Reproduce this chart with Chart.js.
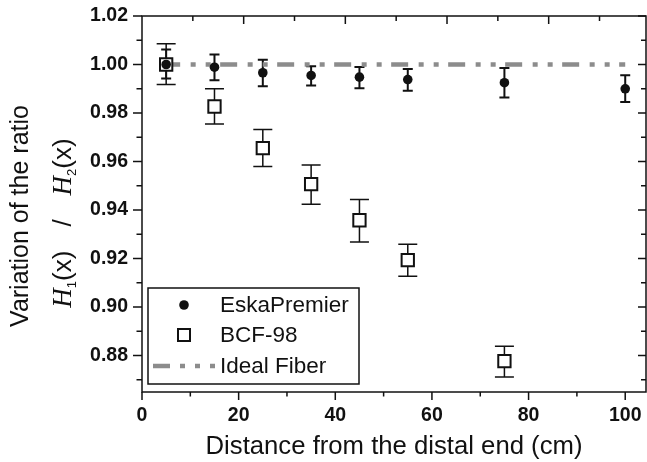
<!DOCTYPE html>
<html>
<head>
<meta charset="utf-8">
<script src="https://cdn.jsdelivr.net/npm/chart.js@4.4.1/dist/chart.umd.min.js"></script>
<style>
  html, body { margin: 0; padding: 0; background: #fff; }
</style>
</head>
<body>
<canvas id="chart" width="647" height="462"></canvas>
<script>
// values
const eskaDistances = [5, 15, 25, 35, 45, 55, 75, 100];
const eskaValues = [1.0000, 0.9989, 0.9966, 0.9955, 0.9948, 0.9938, 0.9925, 0.9900];
const eskaErrHigh = [1.0062, 1.0041, 1.0020, 0.9993, 0.9990, 0.9982, 0.9986, 0.9956];
const eskaErrLow = [0.9942, 0.9935, 0.9910, 0.9914, 0.9902, 0.9892, 0.9864, 0.9845];

const bcfDistances = [5, 15, 25, 35, 45, 55, 75];
const bcfValues = [1.0000, 0.9827, 0.9655, 0.9507, 0.9358, 0.9194, 0.8777];
const bcfErrHigh = [1.0086, 0.9900, 0.9732, 0.9586, 0.9444, 0.9259, 0.8839];
const bcfErrLow = [0.9918, 0.9755, 0.9580, 0.9424, 0.9268, 0.9127, 0.8712];

const idealDistances = [5, 100];
const idealValues = [1, 1];

const seriesLabels = ['EskaPremier', 'BCF-98', 'Ideal Fiber'];
const xTicks = [0, 20, 40, 60, 80, 100];
const yTicks = [0.88, 0.90, 0.92, 0.94, 0.96, 0.98, 1.00, 1.02];
const topTickStep = 10.52; // top axis ticks in the figure are not aligned with the bottom ones

const FONT = 'Liberation Sans, Arial, sans-serif';
const INK = '#111';
const IDEAL_DASH = [17, 10.5, 5, 10, 5, 9.5];

const toPoints = (xs, ys) => xs.map((x, i) => ({ x, y: ys[i] }));

// error bars, drawn under the markers
const errorBars = {
  id: 'errorBars',
  beforeDatasetsDraw(chart) {
    const { ctx, scales: { x, y } } = chart;
    chart.data.datasets.forEach(ds => {
      if (!ds.errLow) return;
      ctx.save();
      ctx.strokeStyle = INK;
      ctx.lineWidth = ds.errWidth;
      ds.data.forEach((p, i) => {
        const px = x.getPixelForValue(p.x);
        const top = y.getPixelForValue(ds.errHigh[i]);
        const bot = y.getPixelForValue(ds.errLow[i]);
        ctx.beginPath();
        ctx.moveTo(px, top); ctx.lineTo(px, bot);
        ctx.moveTo(px - ds.capHalf, top); ctx.lineTo(px + ds.capHalf, top);
        ctx.moveTo(px - ds.capHalf, bot); ctx.lineTo(px + ds.capHalf, bot);
        ctx.stroke();
      });
      ctx.restore();
    });
  }
};

// box frame with major/minor ticks (outward left/bottom, inward top/right)
const frame = {
  id: 'frame',
  afterDatasetsDraw(chart) {
    const { ctx, chartArea: a, scales: { x, y } } = chart;
    ctx.save();
    ctx.strokeStyle = INK;
    ctx.lineWidth = 1.5;
    ctx.strokeRect(a.left, a.top, a.right - a.left, a.bottom - a.top);
    ctx.beginPath();
    const xStep = xTicks[1] - xTicks[0];
    for (let v = 0; v <= x.max + 1e-9; v += xStep / 2) {
      const px = x.getPixelForValue(v);
      const major = Math.abs(v / xStep - Math.round(v / xStep)) < 1e-6;
      ctx.moveTo(px, a.bottom); ctx.lineTo(px, a.bottom + (major ? 8 : 4.5));
    }
    for (let k = 1; k * topTickStep < x.max; k++) {
      const px = x.getPixelForValue(k * topTickStep);
      ctx.moveTo(px, a.top); ctx.lineTo(px, a.top + (k % 2 === 0 ? 8 : 5));
    }
    const yStep = yTicks[1] - yTicks[0];
    for (let v = yTicks[0] - yStep / 2; v <= y.max + 1e-9; v += yStep / 2) {
      if (v < y.min) continue;
      const py = y.getPixelForValue(v);
      const major = yTicks.some(t => Math.abs(t - v) < 1e-6);
      ctx.moveTo(a.left, py); ctx.lineTo(a.left - (major ? 9 : 5.5), py);
      ctx.moveTo(a.right, py); ctx.lineTo(a.right - (major ? 8 : 5), py);
    }
    ctx.stroke();
    ctx.restore();
  }
};

// y title, ratio formula and the boxed legend
const annotations = {
  id: 'annotations',
  afterDraw(chart) {
    const { ctx, chartArea: a } = chart;
    const ds = chart.data.datasets;
    ctx.save();
    ctx.fillStyle = INK;

    ctx.save();
    ctx.translate(21, 216);
    ctx.rotate(-Math.PI / 2);
    ctx.font = '25px ' + FONT;
    ctx.textAlign = 'center';
    ctx.textBaseline = 'middle';
    ctx.fillText('Variation of the ratio', 0, 0);
    ctx.restore();

    const italicH = 'italic 27px Liberation Serif, Times New Roman, serif';
    const sans = '26px ' + FONT;
    const sub = '13px ' + FONT;
    const parts = [
      { t: 'H', f: italicH }, { t: '1', f: sub, dy: 5 }, { t: '(x)', f: sans },
      { t: '/', f: sans, pad: 24 },
      { t: 'H', f: italicH }, { t: '2', f: sub, dy: 5 }, { t: '(x)', f: sans }
    ];
    let total = 0;
    parts.forEach(p => { ctx.font = p.f; p.w = ctx.measureText(p.t).width + 2 * (p.pad || 0); total += p.w; });
    ctx.save();
    ctx.translate(61, 223);
    ctx.rotate(-Math.PI / 2);
    ctx.textBaseline = 'alphabetic';
    let cx = -total / 2;
    parts.forEach(p => {
      ctx.font = p.f;
      ctx.fillText(p.t, cx + (p.pad || 0), 10 + (p.dy || 0));
      cx += p.w;
    });
    ctx.restore();

    // legend
    const L = a.left + 6, T = a.bottom - 104, R = L + 211, B = a.bottom - 8;
    ctx.fillStyle = '#fff';
    ctx.fillRect(L, T, R - L, B - T);
    ctx.strokeStyle = INK;
    ctx.lineWidth = 1.5;
    ctx.strokeRect(L, T, R - L, B - T);
    const rows = [T + 17, T + 47, T + 78];
    const mx = L + 36;
    ctx.fillStyle = INK;
    ctx.beginPath();
    ctx.arc(mx, rows[0], ds[0].pointRadius, 0, Math.PI * 2);
    ctx.fill();
    ctx.fillStyle = '#fff';
    ctx.lineWidth = 2;
    ctx.fillRect(mx - 6, rows[1] - 6, 12, 12);
    ctx.strokeRect(mx - 6, rows[1] - 6, 12, 12);
    ctx.strokeStyle = ds[2].borderColor;
    ctx.lineWidth = ds[2].borderWidth;
    ctx.setLineDash([17, 10, 5, 10, 5, 10, 5, 100]);
    ctx.beginPath();
    ctx.moveTo(L + 5, rows[2]); ctx.lineTo(L + 69, rows[2]);
    ctx.stroke();
    ctx.setLineDash([]);
    ctx.fillStyle = INK;
    ctx.font = '22.5px ' + FONT;
    ctx.textBaseline = 'middle';
    ds.forEach((d, i) => ctx.fillText(d.label, L + 72, rows[i] + 1));
    ctx.restore();
  }
};

new Chart(document.getElementById('chart'), {
  type: 'scatter',
  data: {
    datasets: [
      {
        label: seriesLabels[0],
        data: toPoints(eskaDistances, eskaValues),
        errHigh: eskaErrHigh, errLow: eskaErrLow, capHalf: 5, errWidth: 2,
        pointStyle: 'circle', pointRadius: 4.8, pointHoverRadius: 4.8,
        backgroundColor: INK, borderColor: INK, borderWidth: 0
      },
      {
        label: seriesLabels[1],
        data: toPoints(bcfDistances, bcfValues),
        errHigh: bcfErrHigh, errLow: bcfErrLow, capHalf: 9.5, errWidth: 1.5,
        pointStyle: 'rect', pointRadius: 8.7, pointHoverRadius: 8.7,
        backgroundColor: '#fff', borderColor: INK, borderWidth: 2
      },
      {
        label: seriesLabels[2],
        data: toPoints(idealDistances, idealValues),
        showLine: true, pointRadius: 0,
        borderColor: '#8c8c8c', borderWidth: 4.5,
        borderDash: IDEAL_DASH, borderDashOffset: 3
      }
    ]
  },
  options: {
    responsive: false,
    animation: false,
    devicePixelRatio: 1,
    // no automatic padding for big markers, the plot box is fixed
    layout: { autoPadding: false, padding: { left: 0, top: 16, right: 1, bottom: 0 } },
    plugins: { legend: { display: false }, tooltip: { enabled: false } },
    scales: {
      x: {
        type: 'linear', min: 0, max: 104.3,
        afterBuildTicks: s => { s.ticks = xTicks.map(v => ({ value: v })); },
        afterFit: s => { s.height = 70; s.paddingLeft = 0; s.paddingRight = 0; },
        grid: { display: false, drawTicks: false },
        border: { display: false },
        ticks: { padding: 2, color: INK, font: { family: FONT, size: 19.5, weight: 'bold', lineHeight: 2.2 } },
        title: {
          display: true, text: 'Distance from the distal end (cm)', color: INK,
          font: { family: FONT, size: 25.7 }, padding: { top: 0, bottom: 0 }
        }
      },
      y: {
        type: 'linear', min: 0.865, max: 1.02,
        afterBuildTicks: s => { s.ticks = yTicks.map(v => ({ value: v })); },
        afterFit: s => { s.width = 142; s.paddingTop = 0; s.paddingBottom = 0; },
        grid: { display: false, drawTicks: false },
        border: { display: false },
        ticks: {
          padding: 14, color: INK, font: { family: FONT, size: 19.5, weight: 'bold' },
          callback: v => v.toFixed(2)
        }
      }
    }
  },
  plugins: [errorBars, frame, annotations]
});
</script>
</body>
</html>
